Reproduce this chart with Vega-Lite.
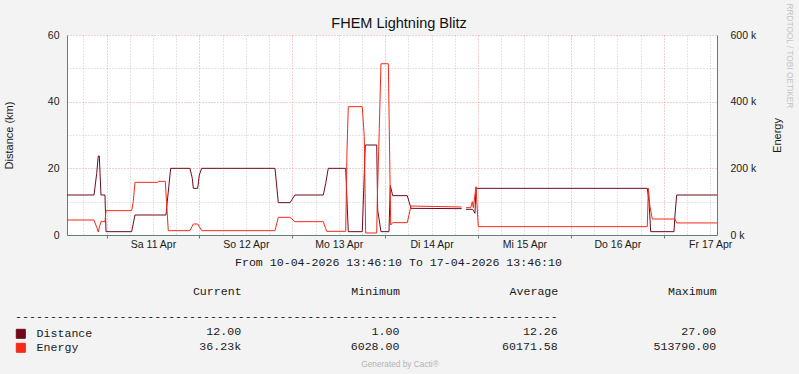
{
  "$schema": "https://vega.github.io/schema/vega-lite/v6.json",
  "autosize": "none",
  "padding": {"left": 67, "top": 35, "right": 732, "bottom": 339},
  "background": "#F3F3F3",
  "title": {"text": "RRDTOOL / TOBI OETIKER", "orient": "right", "anchor": "start", "frame": "bounds", "offset": 3, "dx": -12, "fontSize": 8.3, "font": "Liberation Sans", "fontWeight": "normal", "color": "#C4C4C4"},
  "spacing": 82,
  "bounds": "flush",
  "datasets": {
    "series": [
      {"t": "2026-04-10T13:46:10Z", "s": "Distance", "v": 12},
      {"t": "2026-04-10T20:45:00Z", "s": "Distance", "v": 12},
      {"t": "2026-04-10T21:27:00Z", "s": "Distance", "v": 18.5},
      {"t": "2026-04-10T21:51:00Z", "s": "Distance", "v": 23.7},
      {"t": "2026-04-10T22:07:00Z", "s": "Distance", "v": 23.7},
      {"t": "2026-04-10T22:33:00Z", "s": "Distance", "v": 12},
      {"t": "2026-04-10T23:35:00Z", "s": "Distance", "v": 12},
      {"t": "2026-04-10T23:51:00Z", "s": "Distance", "v": 1},
      {"t": "2026-04-11T06:29:00Z", "s": "Distance", "v": 1},
      {"t": "2026-04-11T07:20:00Z", "s": "Distance", "v": 6},
      {"t": "2026-04-11T15:21:00Z", "s": "Distance", "v": 6},
      {"t": "2026-04-11T15:41:00Z", "s": "Distance", "v": 10},
      {"t": "2026-04-11T16:34:00Z", "s": "Distance", "v": 20},
      {"t": "2026-04-11T21:33:00Z", "s": "Distance", "v": 20},
      {"t": "2026-04-11T22:09:00Z", "s": "Distance", "v": 17},
      {"t": "2026-04-11T22:25:00Z", "s": "Distance", "v": 14},
      {"t": "2026-04-11T23:33:00Z", "s": "Distance", "v": 14},
      {"t": "2026-04-11T23:58:00Z", "s": "Distance", "v": 18},
      {"t": "2026-04-12T00:35:00Z", "s": "Distance", "v": 20},
      {"t": "2026-04-12T19:32:00Z", "s": "Distance", "v": 20},
      {"t": "2026-04-12T20:23:00Z", "s": "Distance", "v": 9.7},
      {"t": "2026-04-12T23:24:00Z", "s": "Distance", "v": 9.7},
      {"t": "2026-04-13T00:42:00Z", "s": "Distance", "v": 12},
      {"t": "2026-04-13T08:01:00Z", "s": "Distance", "v": 12},
      {"t": "2026-04-13T08:38:00Z", "s": "Distance", "v": 15.5},
      {"t": "2026-04-13T09:18:00Z", "s": "Distance", "v": 20},
      {"t": "2026-04-13T13:48:00Z", "s": "Distance", "v": 20},
      {"t": "2026-04-13T14:28:00Z", "s": "Distance", "v": 1},
      {"t": "2026-04-13T18:05:00Z", "s": "Distance", "v": 1},
      {"t": "2026-04-13T18:52:00Z", "s": "Distance", "v": 27},
      {"t": "2026-04-13T21:49:00Z", "s": "Distance", "v": 27},
      {"t": "2026-04-13T22:04:00Z", "s": "Distance", "v": 7.5},
      {"t": "2026-04-13T22:55:00Z", "s": "Distance", "v": 1},
      {"t": "2026-04-14T00:59:00Z", "s": "Distance", "v": 1},
      {"t": "2026-04-14T01:20:00Z", "s": "Distance", "v": 14.8},
      {"t": "2026-04-14T01:57:00Z", "s": "Distance", "v": 11.8},
      {"t": "2026-04-14T05:43:00Z", "s": "Distance", "v": 11.8},
      {"t": "2026-04-14T06:10:00Z", "s": "Distance", "v": 10},
      {"t": "2026-04-14T06:41:00Z", "s": "Distance", "v": 8},
      {"t": "2026-04-14T19:47:00Z", "s": "Distance", "v": 7.9},
      {"t": "2026-04-14T20:23:00Z", "s": "Distance", "v": null},
      {"t": "2026-04-14T20:54:00Z", "s": "Distance", "v": 7.7},
      {"t": "2026-04-14T22:38:00Z", "s": "Distance", "v": 7.7},
      {"t": "2026-04-14T23:13:00Z", "s": "Distance", "v": 6.5},
      {"t": "2026-04-14T23:29:00Z", "s": "Distance", "v": 14},
      {"t": "2026-04-16T19:45:00Z", "s": "Distance", "v": 14},
      {"t": "2026-04-16T20:12:00Z", "s": "Distance", "v": 10},
      {"t": "2026-04-16T20:38:00Z", "s": "Distance", "v": 1},
      {"t": "2026-04-17T02:39:00Z", "s": "Distance", "v": 1},
      {"t": "2026-04-17T02:55:00Z", "s": "Distance", "v": 6},
      {"t": "2026-04-17T03:21:00Z", "s": "Distance", "v": 12},
      {"t": "2026-04-17T13:46:10Z", "s": "Distance", "v": 12},
      {"t": "2026-04-10T13:46:10Z", "s": "Energy", "v": 45000},
      {"t": "2026-04-10T20:45:00Z", "s": "Energy", "v": 45000},
      {"t": "2026-04-10T21:27:00Z", "s": "Energy", "v": 23000},
      {"t": "2026-04-10T21:51:00Z", "s": "Energy", "v": 9000},
      {"t": "2026-04-10T22:13:00Z", "s": "Energy", "v": 27000},
      {"t": "2026-04-10T22:33:00Z", "s": "Energy", "v": 40000},
      {"t": "2026-04-10T23:35:00Z", "s": "Energy", "v": 40000},
      {"t": "2026-04-10T23:51:00Z", "s": "Energy", "v": 73000},
      {"t": "2026-04-11T06:29:00Z", "s": "Energy", "v": 73000},
      {"t": "2026-04-11T06:54:00Z", "s": "Energy", "v": 100000},
      {"t": "2026-04-11T07:20:00Z", "s": "Energy", "v": 158000},
      {"t": "2026-04-11T13:12:00Z", "s": "Energy", "v": 158000},
      {"t": "2026-04-11T13:22:00Z", "s": "Energy", "v": 161000},
      {"t": "2026-04-11T15:10:00Z", "s": "Energy", "v": 161000},
      {"t": "2026-04-11T15:57:00Z", "s": "Energy", "v": 13000},
      {"t": "2026-04-11T21:33:00Z", "s": "Energy", "v": 13000},
      {"t": "2026-04-11T22:25:00Z", "s": "Energy", "v": 33000},
      {"t": "2026-04-11T23:33:00Z", "s": "Energy", "v": 33000},
      {"t": "2026-04-12T00:35:00Z", "s": "Energy", "v": 13000},
      {"t": "2026-04-12T19:32:00Z", "s": "Energy", "v": 13000},
      {"t": "2026-04-12T20:23:00Z", "s": "Energy", "v": 53000},
      {"t": "2026-04-12T23:24:00Z", "s": "Energy", "v": 53000},
      {"t": "2026-04-13T00:42:00Z", "s": "Energy", "v": 40000},
      {"t": "2026-04-13T08:01:00Z", "s": "Energy", "v": 40000},
      {"t": "2026-04-13T08:53:00Z", "s": "Energy", "v": 11000},
      {"t": "2026-04-13T13:48:00Z", "s": "Energy", "v": 11000},
      {"t": "2026-04-13T14:08:00Z", "s": "Energy", "v": 250000},
      {"t": "2026-04-13T14:28:00Z", "s": "Energy", "v": 385000},
      {"t": "2026-04-13T18:05:00Z", "s": "Energy", "v": 385000},
      {"t": "2026-04-13T18:36:00Z", "s": "Energy", "v": 295000},
      {"t": "2026-04-13T18:58:00Z", "s": "Energy", "v": 6028},
      {"t": "2026-04-13T21:49:00Z", "s": "Energy", "v": 6028},
      {"t": "2026-04-13T21:58:00Z", "s": "Energy", "v": 105000},
      {"t": "2026-04-13T22:29:00Z", "s": "Energy", "v": 320000},
      {"t": "2026-04-13T22:55:00Z", "s": "Energy", "v": 513790},
      {"t": "2026-04-14T00:49:00Z", "s": "Energy", "v": 513790},
      {"t": "2026-04-14T01:26:00Z", "s": "Energy", "v": 30000},
      {"t": "2026-04-14T01:57:00Z", "s": "Energy", "v": 37000},
      {"t": "2026-04-14T05:43:00Z", "s": "Energy", "v": 37000},
      {"t": "2026-04-14T06:41:00Z", "s": "Energy", "v": 87000},
      {"t": "2026-04-14T19:47:00Z", "s": "Energy", "v": 84000},
      {"t": "2026-04-14T20:23:00Z", "s": "Energy", "v": null},
      {"t": "2026-04-14T20:54:00Z", "s": "Energy", "v": 82000},
      {"t": "2026-04-14T22:07:00Z", "s": "Energy", "v": 82000},
      {"t": "2026-04-14T22:31:00Z", "s": "Energy", "v": 100000},
      {"t": "2026-04-14T22:47:00Z", "s": "Energy", "v": 82000},
      {"t": "2026-04-14T23:29:00Z", "s": "Energy", "v": 145000},
      {"t": "2026-04-15T00:04:00Z", "s": "Energy", "v": 25000},
      {"t": "2026-04-16T19:45:00Z", "s": "Energy", "v": 25000},
      {"t": "2026-04-16T20:01:00Z", "s": "Energy", "v": 140000},
      {"t": "2026-04-16T20:27:00Z", "s": "Energy", "v": 85000},
      {"t": "2026-04-16T21:03:00Z", "s": "Energy", "v": 48000},
      {"t": "2026-04-17T02:55:00Z", "s": "Energy", "v": 48000},
      {"t": "2026-04-17T03:21:00Z", "s": "Energy", "v": 36230},
      {"t": "2026-04-17T13:46:10Z", "s": "Energy", "v": 36230}
    ],
    "table": [
      {"r": "dash", "c": "Average", "txt": "------------------------------------------------------------------------------"},
      {"r": "Distance", "c": "Current", "txt": "12.00\u00a0"},
      {"r": "Distance", "c": "Minimum", "txt": "1.00"},
      {"r": "Distance", "c": "Average", "txt": "12.26"},
      {"r": "Distance", "c": "Maximum", "txt": "27.00"},
      {"r": "Energy", "c": "Current", "txt": "36.23k"},
      {"r": "Energy", "c": "Minimum", "txt": "6028.00"},
      {"r": "Energy", "c": "Average", "txt": "60171.58"},
      {"r": "Energy", "c": "Maximum", "txt": "513790.00"}
    ]
  },
  "vconcat": [
    {
      "width": 650,
      "height": 200,
      "view": {"fill": "white", "stroke": null},
      "title": {"text": "FHEM Lightning Blitz", "anchor": "middle", "frame": "group", "dx": 7, "dy": 14, "offset": 2, "baseline": "alphabetic", "fontSize": 14.5, "fontWeight": "normal", "font": "Liberation Sans", "color": "#111111"},
      "data": {"name": "series"},
      "encoding": {
        "x": {
          "field": "t", "type": "temporal",
          "scale": {"type": "utc", "domain": [
            {"year": 2026, "month": 4, "date": 10, "hours": 13, "minutes": 46, "seconds": 10, "utc": true},
            {"year": 2026, "month": 4, "date": 17, "hours": 13, "minutes": 46, "seconds": 10, "utc": true}
          ]},
          "axis": {
            "title": "From 10-04-2026 13:46:10 To 17-04-2026 13:46:10",
            "titleFont": "Liberation Mono", "titleFontSize": 11.6, "titleFontWeight": "normal", "titleColor": "#1a1a1a",
            "titlePadding": 7, "titleX": 331,
            "values": [1775844000000, 1775865600000, 1775887200000, 1775908800000, 1775930400000, 1775952000000, 1775973600000, 1775995200000, 1776016800000, 1776038400000, 1776060000000, 1776081600000, 1776103200000, 1776124800000, 1776146400000, 1776168000000, 1776189600000, 1776211200000, 1776232800000, 1776254400000, 1776276000000, 1776297600000, 1776319200000, 1776340800000, 1776362400000, 1776384000000, 1776405600000, 1776427200000],
            "labelExpr": "utchours(datum.value) === 12 ? (utcday(datum.value) === 0 ? 'So' : utcday(datum.value) === 1 ? 'Mo' : utcday(datum.value) === 2 ? 'Di' : utcday(datum.value) === 3 ? 'Mi' : utcday(datum.value) === 4 ? 'Do' : utcday(datum.value) === 5 ? 'Fr' : 'Sa') + ' ' + utcdate(datum.value) + ' Apr' : ''",
            "labelOverlap": false, "labelFlush": false,
            "labelPadding": 1, "tickSize": 3,
            "tickColor": {"condition": {"test": "utchours(datum.value) === 0", "value": "#5E7F7A"}, "value": "transparent"},
            "gridColor": {"condition": {"test": "utchours(datum.value) === 0", "value": "#E3A0A0"}, "value": "#CBCBCB"},
            "gridDash": [1, 2]
          }
        },
        "color": {
          "field": "s", "type": "nominal",
          "scale": {"domain": ["Distance", "Energy"], "range": ["#700A1A", "#F52A18"]},
          "legend": {
            "orient": "none", "legendX": -52, "legendY": 293, "title": null,
            "symbolType": "square", "symbolSize": 81, "symbolStrokeWidth": 1,
            "labelFont": "Liberation Mono", "labelFontSize": 11.6, "labelColor": "#1a1a1a",
            "labelOffset": 10, "rowPadding": 0, "padding": 0, "direction": "vertical",
            "encode": {"symbols": {"update": {"fill": {"scale": "color", "field": "value"}, "stroke": {"value": "#2F4F4F"}, "opacity": {"value": 1}}}}
          }
        }
      },
      "layer": [
        {
          "transform": [{"filter": "datum.s === 'Distance'"}],
          "mark": {"type": "line", "strokeWidth": 1},
          "encoding": {
            "y": {
              "field": "v", "type": "quantitative",
              "scale": {"domain": [0, 60], "nice": false},
              "axis": {
                "title": "Distance (km)", "titlePadding": 33,
                "values": [0, 10, 20, 30, 40, 50, 60],
                "labelExpr": "datum.value % 20 === 0 ? datum.label : ''",
                "ticks": false, "tickSize": 0, "labelPadding": 8,
                "gridColor": {"condition": {"test": "datum.value % 20 === 0", "value": "#E3A0A0"}, "value": "#CBCBCB"},
                "gridDash": [1, 2]
              }
            }
          }
        },
        {
          "transform": [{"filter": "datum.s === 'Energy'"}],
          "mark": {"type": "line", "strokeWidth": 1},
          "encoding": {
            "y": {
              "field": "v", "type": "quantitative",
              "scale": {"domain": [0, 600000], "nice": false},
              "axis": {
                "orient": "right", "title": "Energy", "titleAngle": -90, "titlePadding": 27,
                "values": [0, 200000, 400000, 600000],
                "labelExpr": "(datum.value / 1000) + ' k'",
                "grid": false, "ticks": false, "tickSize": 0, "labelPadding": 13
              }
            }
          }
        }
      ],
      "resolve": {"scale": {"y": "independent"}}
    },
    {
      "width": 650,
      "height": 30,
      "data": {"name": "table"},
      "title": {"text": "Generated by Cacti®", "orient": "bottom", "anchor": "middle", "frame": "group", "dx": 8, "offset": 7, "fontSize": 8.3, "font": "Liberation Sans", "fontWeight": "normal", "color": "#B4B4B4"},
      "mark": {"type": "text", "font": "Liberation Mono", "fontSize": 11.6, "align": "right", "baseline": "middle", "color": "#1a1a1a"},
      "encoding": {
        "x": {
          "field": "c", "type": "nominal",
          "scale": {"type": "point", "domain": ["Current", "Minimum", "Average", "Maximum"], "padding": 0.5526, "align": 0.995},
          "axis": {"orient": "top", "title": null, "domain": false, "ticks": false, "tickSize": 0, "grid": false, "labelAngle": 0, "labelAlign": "right", "labelBaseline": "middle", "labelPadding": 26, "labelFont": "Liberation Mono", "labelFontSize": 11.6, "labelColor": "#1a1a1a"}
        },
        "y": {
          "field": "r", "type": "nominal",
          "scale": {"type": "point", "domain": ["dash", "Distance", "Energy"], "padding": 0},
          "axis": null
        },
        "text": {"field": "txt"}
      }
    }
  ],
  "config": {
    "view": {"stroke": null},
    "font": "Liberation Sans",
    "axis": {
      "labelFont": "Liberation Sans", "labelFontSize": 10.5, "labelColor": "#1a1a1a",
      "titleFont": "Liberation Sans", "titleFontSize": 11, "titleFontWeight": "normal", "titleColor": "#1a1a1a",
      "domainColor": "#5E7F7A", "domainWidth": 1
    }
  }
}
